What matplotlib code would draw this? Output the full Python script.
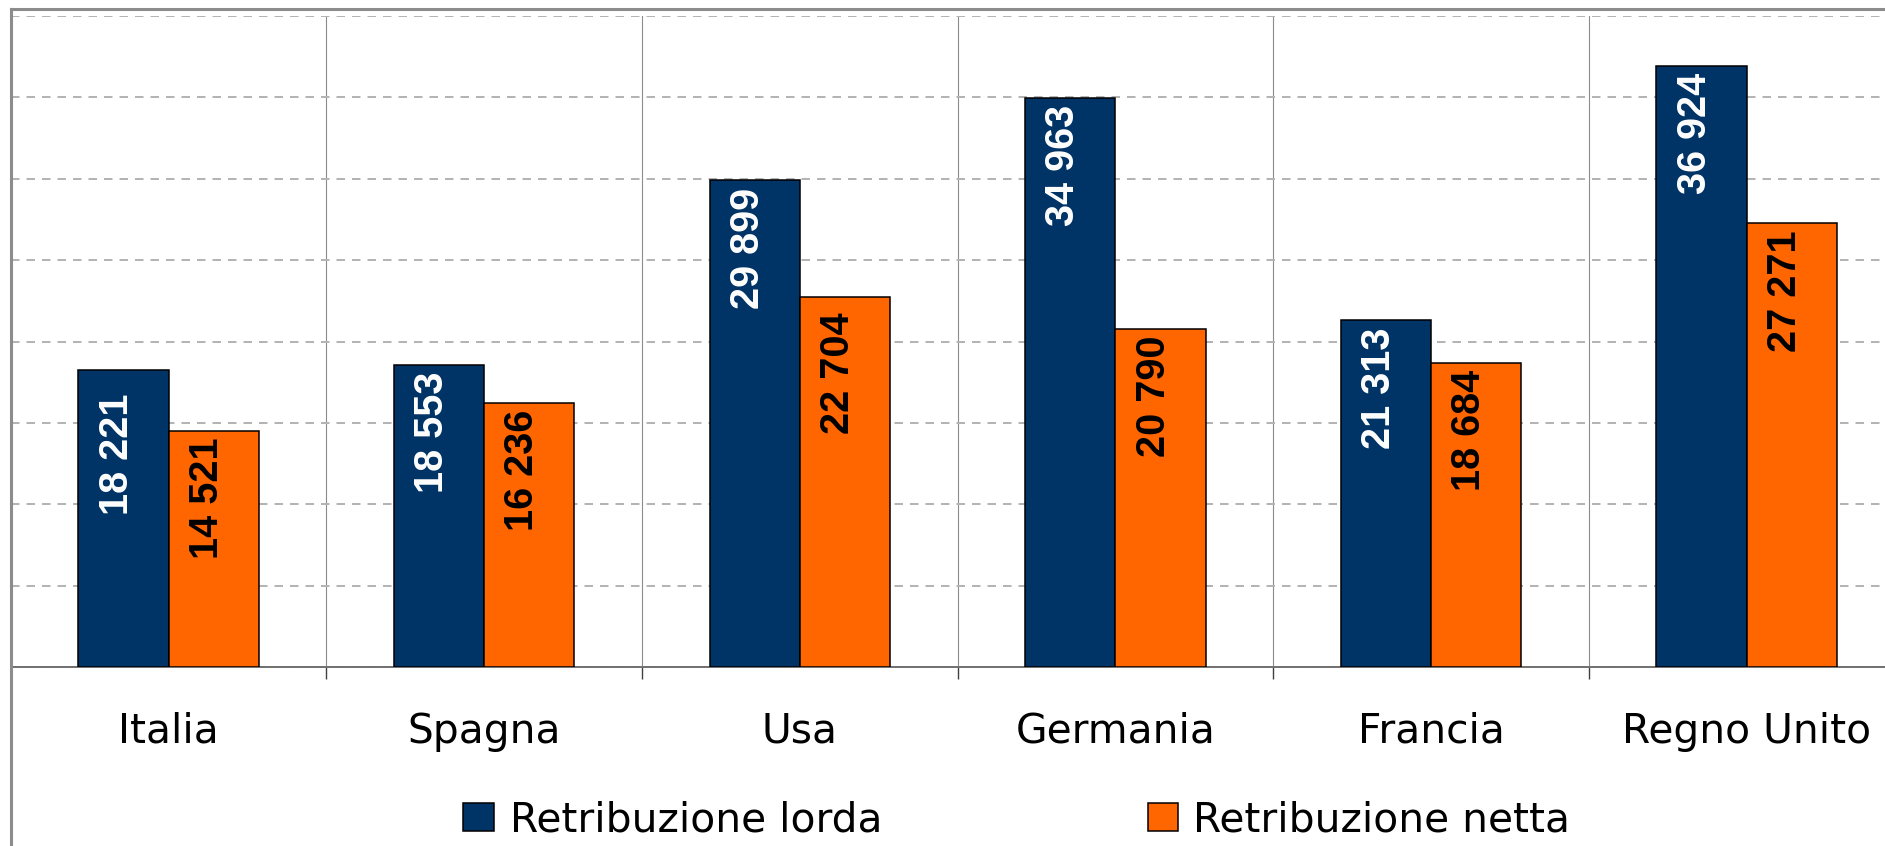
import numpy as np
import matplotlib
matplotlib.use("Agg")
import matplotlib.pyplot as plt
from matplotlib.patches import Rectangle
from matplotlib.lines import Line2D
import matplotlib.transforms as mtransforms

# ---------------- data ----------------
categories = ["Italia", "Spagna", "Usa", "Germania", "Francia", "Regno Unito"]
lorda = [18221, 18553, 29899, 34963, 21313, 36924]
netta = [14521, 16236, 22704, 20790, 18684, 27271]
series_names = ["Retribuzione lorda", "Retribuzione netta"]

# ---------------- style ----------------
colors = ["#003366", "#FF6600"]
label_colors = ["white", "black"]
# extra downward shift (pixels) for some value labels, as placed in the original
label_nudge_px = {(0, 0): 16, (1, 2): 8}

W, H = 1885, 846
DPI = 100
fig = plt.figure(figsize=(W / DPI, H / DPI), dpi=DPI)
fig.patch.set_facecolor("white")


def fx(px):
    return px / W


def fy(py):
    return 1 - py / H


# plot area (pixels, measured from top-left)
left_px, right_px = 10.8, 1904.4
top_px, base_px = 16.0, 667.0
ax = fig.add_axes([fx(left_px), fy(base_px),
                   (right_px - left_px) / W, (base_px - top_px) / H])
ax.set_facecolor("white")

n = len(categories)
x = np.arange(n)
w = 0.2857
series = [lorda, netta]
bar_groups = []
for k, vals in enumerate(series):
    bars = ax.bar(x + (k - 0.5) * w, vals, w, color=colors[k],
                  edgecolor="black", linewidth=1.1, zorder=3)
    bar_groups.append(bars)

ax.set_xlim(-0.5, n - 0.5)
ax.set_ylim(0, 40000)
ax.set_yticks(np.arange(0, 40001, 5000))
ax.tick_params(axis="y", length=0, labelleft=False)
ax.yaxis.grid(True, linestyle=(0, (4.25, 3.5)), color="#b4b4b4", linewidth=1.44)

ax.set_xticks(np.arange(-0.5, n, 1.0))
ax.set_xticklabels([])
ax.tick_params(axis="x", length=8.6, width=1.0, color="#404040", direction="out")
ax.xaxis.grid(True, color="#8c8c8c", linewidth=0.8, linestyle="-")
ax.set_axisbelow(True)

for s in ["top", "right", "left"]:
    ax.spines[s].set_visible(False)
ax.spines["bottom"].set_color("#707070")
ax.spines["bottom"].set_linewidth(1.4)

# category labels
trans = mtransforms.blended_transform_factory(ax.transData, fig.transFigure)
for i, cat in enumerate(categories):
    ax.text(i, fy(742.7), cat, transform=trans, ha="center", va="baseline",
            fontsize=29.3, color="black", family="DejaVu Sans")

# value labels (rotated, inside end)
for k, bars in enumerate(bar_groups):
    for i, (rect, v) in enumerate(zip(bars, series[k])):
        txt = f"{v:,}".replace(",", " ")
        dy_px = 7 + label_nudge_px.get((k, i), 0)
        ax.annotate(txt, xy=(rect.get_x() + rect.get_width() / 2, v),
                    xytext=(-5, -dy_px * 0.72), textcoords="offset points",
                    rotation=90, ha="center", va="top",
                    color=label_colors[k], fontsize=28.5, fontweight="bold",
                    family="Liberation Sans", zorder=4)

# legend (manual)
leg_sq_x = [463.3, 1147.6]
leg_txt_x = [510, 1193]
for k in range(2):
    fig.add_artist(Rectangle((fx(leg_sq_x[k]), fy(830.7)), 30.7 / W, 27.7 / H,
                             transform=fig.transFigure, facecolor=colors[k],
                             edgecolor="black", linewidth=1.1))
    fig.text(fx(leg_txt_x[k]), fy(831.7), series_names[k], va="baseline",
             ha="left", fontsize=29.3, color="black", family="DejaVu Sans")

# chart border (grey)
fig.add_artist(Line2D([fx(11), fx(11)], [fy(9.3), 0], color="#8c8c8c",
                      linewidth=2.2, transform=fig.transFigure))
fig.add_artist(Line2D([fx(11), 1], [fy(9.3), fy(9.3)], color="#8c8c8c",
                      linewidth=2.2, transform=fig.transFigure))

fig.savefig("out.png", dpi=DPI)
